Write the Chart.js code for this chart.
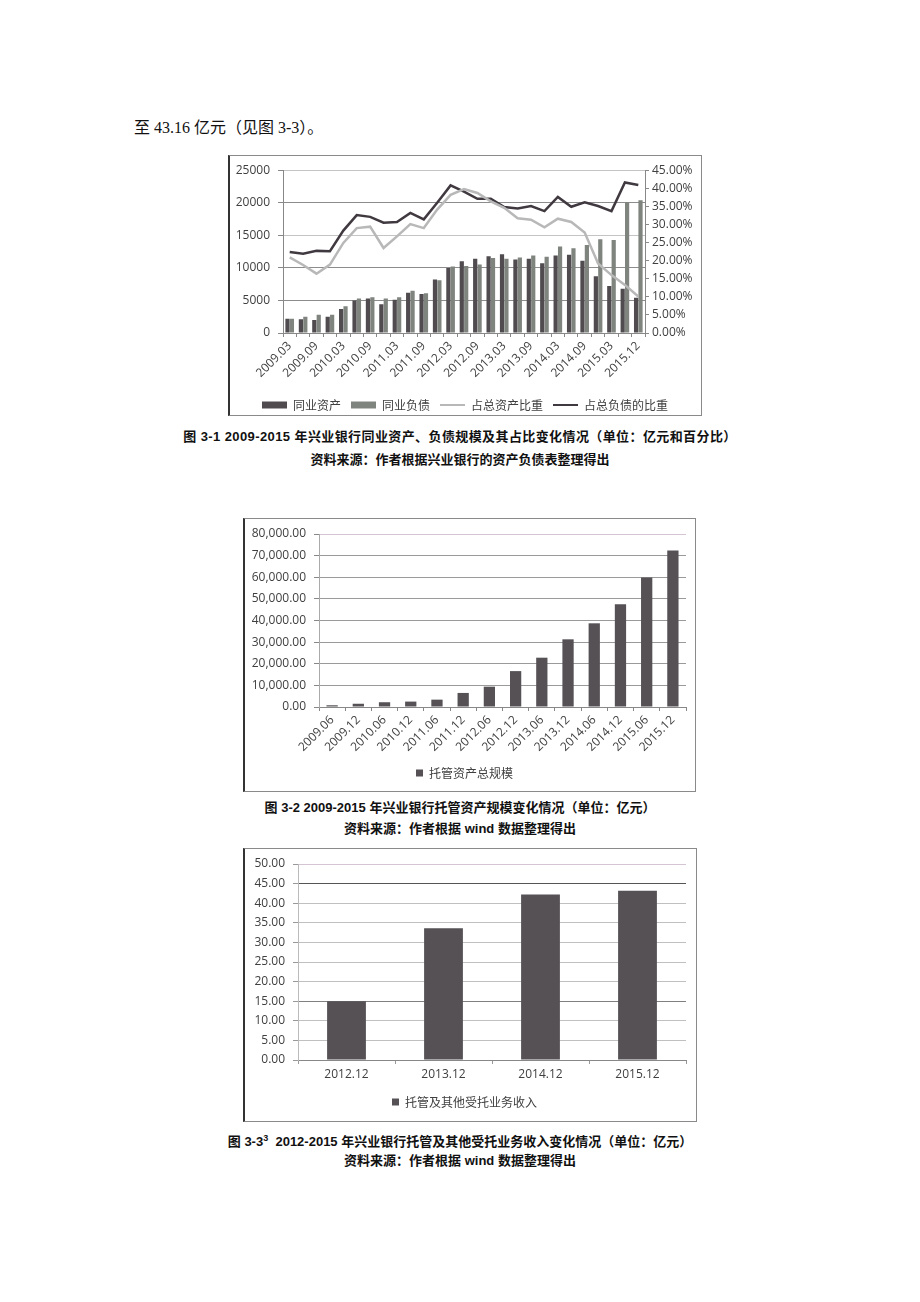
<!DOCTYPE html>
<html>
<head>
<meta charset="utf-8">
<script src="https://cdn.jsdelivr.net/npm/chart.js@4.4.0/dist/chart.umd.min.js"></script>
<style>
body { margin:0; width:920px; height:1302px; background:#fff; position:relative; font-family:"Liberation Sans","Noto Sans CJK SC",sans-serif; }
.abs { position:absolute; }
.frame { position:absolute; box-sizing:border-box; border:1px solid #8a8a8a; border-left:2px solid #333; }
.cap { position:absolute; left:0; width:920px; text-align:center; font-size:13px; font-weight:bold; color:#111; line-height:16px; white-space:nowrap; }
</style>
</head>
<body>
<div class="abs" style="left:134px;top:114px;font-family:'Liberation Serif','Noto Sans CJK SC',serif;font-size:16px;color:#111;">至 43.16 亿元（见图 3-3）。</div>

<div class="frame" style="left:228px;top:155px;width:474px;height:261px;"></div>
<div class="abs" style="left:228px;top:155px;"><canvas id="c1" width="474" height="266"></canvas></div>
<div class="cap" style="top:429px;letter-spacing:0.4px;">图 3-1 2009-2015 年兴业银行同业资产、负债规模及其占比变化情况（单位：亿元和百分比）</div>
<div class="cap" style="top:452px;">资料来源：作者根据兴业银行的资产负债表整理得出</div>

<div class="frame" style="left:243px;top:518px;width:453px;height:274px;"></div>
<div class="abs" style="left:243px;top:518px;"><canvas id="c2" width="453" height="274"></canvas></div>
<div class="cap" style="top:800px;">图 3-2 2009-2015 年兴业银行托管资产规模变化情况（单位：亿元）</div>
<div class="cap" style="top:821px;">资料来源：作者根据 wind 数据整理得出</div>

<div class="frame" style="left:243px;top:848px;width:454px;height:274px;"></div>
<div class="abs" style="left:243px;top:848px;"><canvas id="c3" width="454" height="274"></canvas></div>
<div class="cap" style="top:1130px;">图 3-3<sup style="font-size:9px;">3</sup>&nbsp; 2012-2015 年兴业银行托管及其他受托业务收入变化情况（单位：亿元）</div>
<div class="cap" style="top:1153px;">资料来源：作者根据 wind 数据整理得出</div>

<script>
const quarterLabels = ['2009.03','2009.06','2009.09','2009.12','2010.03','2010.06','2010.09','2010.12',
    '2011.03','2011.06','2011.09','2011.12','2012.03','2012.06','2012.09','2012.12',
    '2013.03','2013.06','2013.09','2013.12','2014.03','2014.06','2014.09','2014.12',
    '2015.03','2015.06','2015.12'];
const interbankAssets = [2200,2100,2000,2500,3700,5000,5300,4400,5100,6200,6000,8200,10000,11000,
    11400,11800,12100,11300,11400,10700,11900,12000,11100,8700,7200,6800,5400];
const interbankLiabilities = [2200,2500,2800,2800,4100,5300,5500,5300,5500,6500,6100,8100,10200,10300,
    10500,11500,11400,11600,11900,11700,13300,13000,13500,14400,14300,20100,20400];
const assetShare = [20.9,18.8,16.4,18.9,24.9,29.0,29.4,23.5,26.7,30.1,29.0,34.1,38.2,39.8,
    38.7,36.4,34.6,31.7,31.3,29.2,31.6,30.7,27.8,19.2,16.0,13.3,10.1];
const liabilityShare = [22.4,21.9,22.7,22.6,28.3,32.6,32.1,30.5,30.7,33.2,31.4,36.0,40.8,39.1,
    37.1,37.1,34.8,34.4,35.1,33.7,37.6,34.9,36.1,35.1,33.7,41.6,40.9];

const custodyLabels = ['2009.06','2009.12','2010.06','2010.12','2011.06','2011.12','2012.06',
    '2012.12','2013.06','2013.12','2014.06','2014.12','2015.06','2015.12'];
const custodyTotal = [800,1500,2200,2500,3400,6500,9400,16600,22800,31300,38700,47500,59900,72400];

const feeLabels = ['2012.12','2013.12','2014.12','2015.12'];
const feeIncome = [14.97,33.6,42.2,43.16];

const tickFont = {family: 'Open Sans', size: 12};
const cjkFont = {family: 'Noto Sans CJK SC', size: 12};
const tickColor = '#404040';

// chart 3-1
new Chart(document.querySelector('#c1'), {
    data: {
        labels: quarterLabels,
        datasets: [{
            type: 'bar', label: '同业资产', data: interbankAssets,
            backgroundColor: '#4f4b4f', yAxisID: 'y', order: 1,
            categoryPercentage: 0.66, barPercentage: 0.95
        }, {
            type: 'bar', label: '同业负债', data: interbankLiabilities,
            backgroundColor: '#7f847f', yAxisID: 'y', order: 1,
            categoryPercentage: 0.66, barPercentage: 0.95
        }, {
            type: 'line', label: '占总资产比重', data: assetShare,
            borderColor: '#b8b8b8', backgroundColor: '#b8b8b8', borderWidth: 2.5,
            pointRadius: 0, tension: 0, yAxisID: 'y1', order: 0
        }, {
            type: 'line', label: '占总负债的比重', data: liabilityShare,
            borderColor: '#403a40', backgroundColor: '#403a40', borderWidth: 2.5,
            pointRadius: 0, tension: 0, yAxisID: 'y1', order: 0
        }]
    },
    options: {
        responsive: false,
        animation: false,
        layout: {padding: {top: 7, left: 0, right: 0, bottom: 0}},
        plugins: {
            tooltip: {enabled: false},
            legend: {
                position: 'bottom',
                labels: {
                    usePointStyle: true, pointStyleWidth: 25, boxHeight: 7,
                    font: cjkFont, color: tickColor, padding: 10,
                    sort: (a, b) => a.datasetIndex - b.datasetIndex,
                    generateLabels: chart => Chart.defaults.plugins.legend.labels.generateLabels(chart).map(l => {
                        const ds = chart.data.datasets[l.datasetIndex];
                        l.pointStyle = ds.type === 'line' ? 'line' : 'rect';
                        l.lineWidth = ds.type === 'line' ? 2 : 0;
                        return l;
                    })
                }
            }
        },
        scales: {
            x: {
                grid: {drawOnChartArea: false, tickLength: 4, color: '#888'},
                border: {color: '#888'},
                ticks: {
                    autoSkip: false, minRotation: 45, maxRotation: 45, font: tickFont, color: tickColor, padding: 2,
                    callback: (v, i) => i % 2 === 0 ? quarterLabels[i] : ''
                },
                afterFit: s => { s.height = 56; }
            },
            y: {
                position: 'left', min: 0, max: 25000,
                grid: {
                    color: c => (c.tick && (c.tick.value === 15000 || c.tick.value === 25000)) ? '#c4c4c4' : '#8c8c8c',
                    tickColor: '#888', tickLength: 5
                },
                border: {color: '#888'},
                ticks: {stepSize: 5000, font: tickFont, color: tickColor, padding: 8, callback: v => String(v)},
                afterFit: s => { s.width = 55; }
            },
            y1: {
                position: 'right', min: 0, max: 45,
                grid: {drawOnChartArea: false, tickColor: '#888', tickLength: 4},
                border: {color: '#888'},
                ticks: {stepSize: 5, font: tickFont, color: tickColor, padding: 3, callback: v => v.toFixed(2) + '%'},
                afterFit: s => { s.width = 57; }
            }
        }
    }
});

// chart 3-2
new Chart(document.querySelector('#c2'), {
    type: 'bar',
    data: {
        labels: custodyLabels,
        datasets: [{
            label: '托管资产总规模', data: custodyTotal,
            backgroundColor: '#555155', categoryPercentage: 1, barPercentage: 0.43
        }]
    },
    options: {
        responsive: false,
        animation: false,
        layout: {padding: {top: 16, left: 0, right: 10, bottom: 3}},
        plugins: {
            tooltip: {enabled: false},
            legend: {position: 'bottom', labels: {boxWidth: 7, boxHeight: 7, font: cjkFont, color: tickColor, padding: 10}}
        },
        scales: {
            x: {
                grid: {drawOnChartArea: false, tickLength: 4, color: '#888'},
                border: {color: '#888'},
                ticks: {autoSkip: false, minRotation: 45, maxRotation: 45, font: tickFont, color: tickColor, padding: 2},
                afterFit: s => { s.height = 50; }
            },
            y: {
                min: 0, max: 80000,
                grid: {
                    color: c => (c.tick && c.tick.value === 80000) ? '#d4c4d4' : '#9a9a9a',
                    tickColor: '#888', tickLength: 5
                },
                border: {color: '#aaa'},
                ticks: {stepSize: 10000, font: tickFont, color: tickColor, padding: 8,
                    callback: v => v.toLocaleString('en-US', {minimumFractionDigits: 2, maximumFractionDigits: 2})},
                afterFit: s => { s.width = 76; }
            }
        }
    }
});

// chart 3-3
new Chart(document.querySelector('#c3'), {
    type: 'bar',
    data: {
        labels: feeLabels,
        datasets: [{
            label: '托管及其他受托业务收入', data: feeIncome,
            backgroundColor: '#555155', categoryPercentage: 1, barPercentage: 0.4
        }]
    },
    options: {
        responsive: false,
        animation: false,
        layout: {padding: {top: 16, left: 0, right: 11, bottom: 4}},
        plugins: {
            tooltip: {enabled: false},
            legend: {position: 'bottom', labels: {boxWidth: 7, boxHeight: 7, font: cjkFont, color: tickColor, padding: 10}}
        },
        scales: {
            x: {
                grid: {drawOnChartArea: false, tickLength: 4, color: '#999'},
                border: {color: '#888'},
                ticks: {font: tickFont, color: tickColor, padding: 3},
                afterFit: s => { s.height = 26; }
            },
            y: {
                min: 0, max: 50,
                grid: {
                    color: c => {
                        const v = c.tick ? c.tick.value : 0;
                        if (v === 50) return '#d4c4d4';
                        if (v === 45) return '#555';
                        if (v === 15) return '#808080';
                        return '#c0c0c0';
                    },
                    tickColor: '#999', tickLength: 5
                },
                border: {color: '#bbb'},
                ticks: {stepSize: 5, font: tickFont, color: tickColor, padding: 8, callback: v => v.toFixed(2)},
                afterFit: s => { s.width = 55; }
            }
        }
    }
});
</script>
</body>
</html>
